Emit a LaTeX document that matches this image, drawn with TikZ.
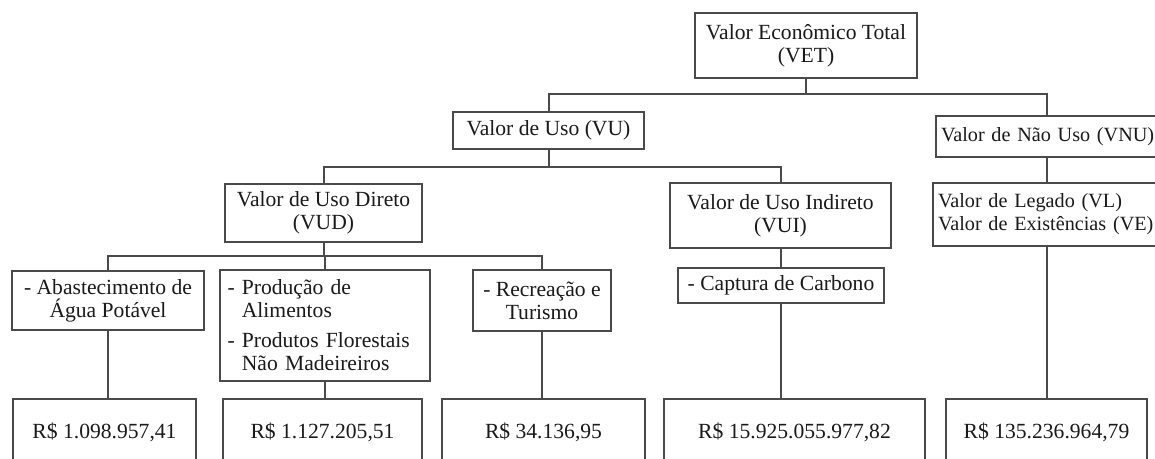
\documentclass[tikz,border=0pt]{standalone}
\usepackage{fontspec}
\setmainfont{Liberation Serif}
\usepackage{tikz}
\definecolor{linha}{HTML}{4A4A4A}
\definecolor{texto}{HTML}{1A1A1A}
\tikzstyle{caixa} = [draw=linha, line width=1pt, inner sep=2pt, align=center, text=texto, font=\fontsize{10.8}{11.5}\selectfont]
\tikzstyle{lado} = [caixa, anchor=west, align=left, text width=122pt, inner xsep=2.5pt, font=\fontsize{10.1}{11.5}\selectfont]
\tikzstyle{valor} = [caixa, anchor=north, inner ysep=0pt, text height=19.5pt, text depth=20pt]
\tikzstyle{ramo} = [draw=linha, line width=1pt]
\newcommand{\ind}{\phantom{- }}

\begin{document}
\begin{tikzpicture}[x=0.5pt, y=-0.5pt]
	\fill[white] (0,0) rectangle (1155,459);
	\clip (0,0) rectangle (1155,459);
	\node[caixa, minimum width=111pt, minimum height=32.5pt] (vet) at (806,45.5) {Valor Econômico Total\\(VET)};
	\node[caixa, minimum width=95.5pt, minimum height=18.5pt] (vu) at (548.5,130.5) {Valor de Uso (VU)};
	\node[lado, minimum height=20.5pt] (vnu) at (935,136.5) {Valor de Não Uso (VNU)};
	\node[caixa, minimum width=98.5pt, minimum height=29pt] (vud) at (323.5,213) {Valor de Uso Direto\\(VUD)};
	\node[caixa, minimum width=110.5pt, minimum height=32.5pt] (vui) at (780.5,215.5) {Valor de Uso Indireto\\(VUI)};
	\node[lado, minimum height=31.5pt] (vl) at (932,214.5) {Valor de Legado (VL)\\Valor de Existências (VE)};
	\node[caixa, minimum width=96pt, minimum height=29.5pt] (abast) at (108,300.5) {- Abastecimento de\\Água Potável};
	\node[caixa, align=left, text width=97pt, inner xsep=4pt, minimum height=55.5pt] (prod) at (324.5,325.5)
		{- Produção de\\\ind Alimentos\\[3.5pt]- Produtos Florestais\\\ind Não Madeireiros};
	\node[caixa, minimum width=69pt, minimum height=30.5pt] (recr) at (542,300.5) {- Recreação e\\Turismo};
	\node[caixa, minimum width=103pt, minimum height=17.5pt] (capt) at (781,285.5) {- Captura de Carbono};
	\node[valor, minimum width=91.5pt] (val1) at (104.5,398) {R\$ 1.098.957,41};
	\node[valor, minimum width=99.5pt] (val2) at (322.5,398) {R\$ 1.127.205,51};
	\node[valor, minimum width=101.5pt] (val3) at (543.5,398) {R\$ 34.136,95};
	\node[valor, minimum width=130.5pt] (val4) at (794.5,398) {R\$ 15.925.055.977,82};
	\node[valor, minimum width=100.5pt] (val5) at (1046.5,398) {R\$ 135.236.964,79};
	\draw[ramo] (vet.south) -- ++(0,15) -| (vu.north);
	\draw[ramo] (vet.south) -- ++(0,15) -| (vnu.north -| val5.north);
	\draw[ramo] (vu.south) -- ++(0,17) -| (vud.north);
	\draw[ramo] (vu.south) -- ++(0,17) -| (vui.north);
	\draw[ramo] (vud.south) -- ++(0,13) -| (abast.north);
	\draw[ramo] (vud.south) -- ++(0,13) -| (prod.north);
	\draw[ramo] (vud.south) -- ++(0,13) -| (recr.north);
	\draw[ramo] (vui.south) -- (vui.south |- capt.north);
	\draw[ramo] (vnu.south -| val5.north) -- (vl.north -| val5.north);
	\draw[ramo] (vl.south -| val5.north) -- (val5.north);
	\draw[ramo] (abast.south) -- (abast.south |- val1.north);
	\draw[ramo] (prod.south) -- (prod.south |- val2.north);
	\draw[ramo] (recr.south) -- (recr.south |- val3.north);
	\draw[ramo] (capt.south) -- (capt.south |- val4.north);
\end{tikzpicture}
\end{document}
